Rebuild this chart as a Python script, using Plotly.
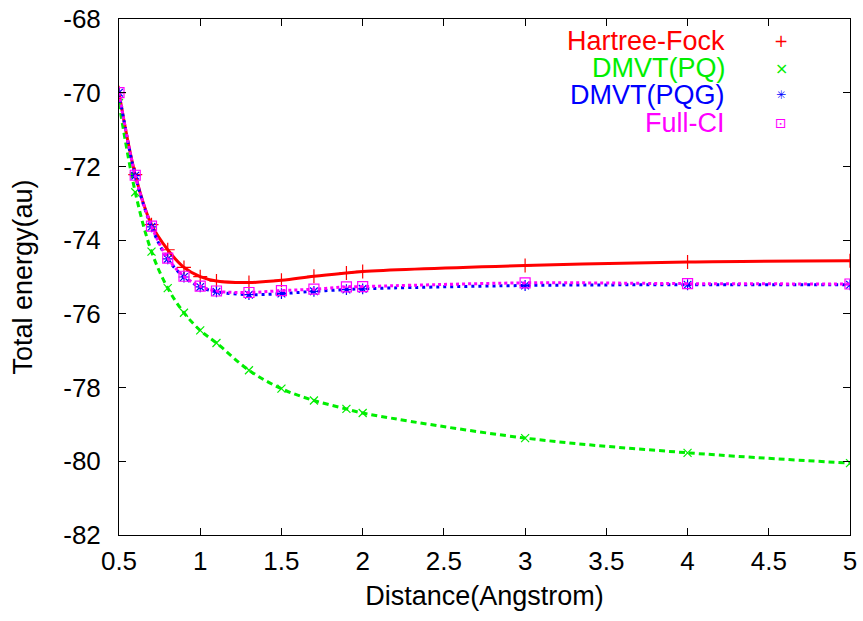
import plotly.graph_objects as go

distance = [0.5, 0.6, 0.7, 0.8, 0.9, 1.0, 1.1, 1.3, 1.5, 1.7, 1.9, 2.0, 3.0, 4.0, 5.0]
hartree_fock = [-70.0, -72.22, -73.58, -74.26, -74.74, -74.99, -75.11, -75.15, -75.09,
                -74.98, -74.89, -74.85, -74.69, -74.59, -74.56]
dmvt_pq = [-70.28, -72.70, -74.31, -75.30, -75.97, -76.45, -76.79, -77.53, -78.03,
           -78.35, -78.58, -78.69, -79.37, -79.77, -80.05]
dmvt_pqg = [-70.0, -72.25, -73.64, -74.51, -75.00, -75.27, -75.40, -75.48, -75.45,
            -75.39, -75.34, -75.32, -75.23, -75.21, -75.21]
full_ci = [-70.0, -72.24, -73.62, -74.49, -74.98, -75.25, -75.38, -75.42, -75.37,
           -75.33, -75.27, -75.26, -75.16, -75.18, -75.19]

series_names = ["Hartree-Fock", "DMVT(PQ)", "DMVT(PQG)", "Full-CI"]
legend_glyphs = ["+", "×", "✳", "⊡"]
y_tick_values = [-82, -80, -78, -76, -74, -72, -70, -68]
y_tick_labels = ["-82", "-80", "-78", "-76", "-74", "-72", "-70", "-68"]
x_tick_values = [0.5, 1, 1.5, 2, 2.5, 3, 3.5, 4, 4.5, 5]
x_tick_labels = ["0.5", "1", "1.5", "2", "2.5", "3", "3.5", "4", "4.5", "5"]

styles = [
    dict(color="#ff0000", dash="solid", width=3, symbol="cross-thin", size=10, gsize=17),
    dict(color="#00ee00", dash="6px,4px", width=3, symbol="x-thin", size=8, gsize=16),
    dict(color="#0000ff", dash="3px,4px", width=3, symbol="asterisk", size=9, gsize=12),
    dict(color="#ff00ff", dash="3px,3px", width=3, symbol="square-open-dot", size=10, gsize=14),
]
all_y = [hartree_fock, dmvt_pq, dmvt_pqg, full_ci]

FONT = "Liberation Sans, Arial, sans-serif"
fig = go.Figure()
for name, ys, st in zip(series_names, all_y, styles):
    fig.add_trace(go.Scatter(
        x=distance, y=ys, mode="lines+markers", name=name, showlegend=False,
        line=dict(color=st["color"], width=st["width"], dash=st["dash"],
                  shape="spline", smoothing=1.0),
        marker=dict(symbol=st["symbol"], size=st["size"], color=st["color"],
                    line=dict(color=st["color"], width=1.2)),
    ))

# key: coloured right-aligned text with the point symbol to its right
legend_y = [0.957, 0.905, 0.853, 0.799]
for name, glyph, st, yy in zip(series_names, legend_glyphs, styles, legend_y):
    fig.add_annotation(
        text=name, xref="paper", yref="paper", x=0.832, y=yy,
        xanchor="right", yanchor="middle", showarrow=False,
        font=dict(family=FONT, size=27, color=st["color"]),
    )
    fig.add_annotation(
        text=glyph, xref="paper", yref="paper", x=0.906, y=yy,
        xanchor="center", yanchor="middle", showarrow=False,
        font=dict(family="DejaVu Sans, sans-serif", size=st["gsize"], color=st["color"]),
    )

axis_common = dict(
    showline=True, linecolor="black", linewidth=1, mirror="ticks",
    ticks="inside", ticklen=7, tickwidth=1, tickcolor="black",
    showgrid=False, zeroline=False, automargin=False,
    tickfont=dict(family=FONT, size=26, color="black"),
)
fig.update_xaxes(range=[0.5, 5], tickvals=x_tick_values, ticktext=x_tick_labels,
                 ticklabelstandoff=3,
                 title=dict(text="Distance(Angstrom)", standoff=10,
                            font=dict(family=FONT, size=27, color="black")),
                 **axis_common)
fig.update_yaxes(range=[-82, -68], tickvals=y_tick_values, ticktext=y_tick_labels,
                 ticklabelstandoff=12,
                 title=dict(text="Total energy(au)", standoff=22,
                            font=dict(family=FONT, size=27, color="black")),
                 **axis_common)

fig.update_layout(
    width=863, height=621,
    margin=dict(l=119, r=13, t=19, b=86),
    paper_bgcolor="white", plot_bgcolor="white",
    showlegend=False,
)
fig.write_html("out.html")
